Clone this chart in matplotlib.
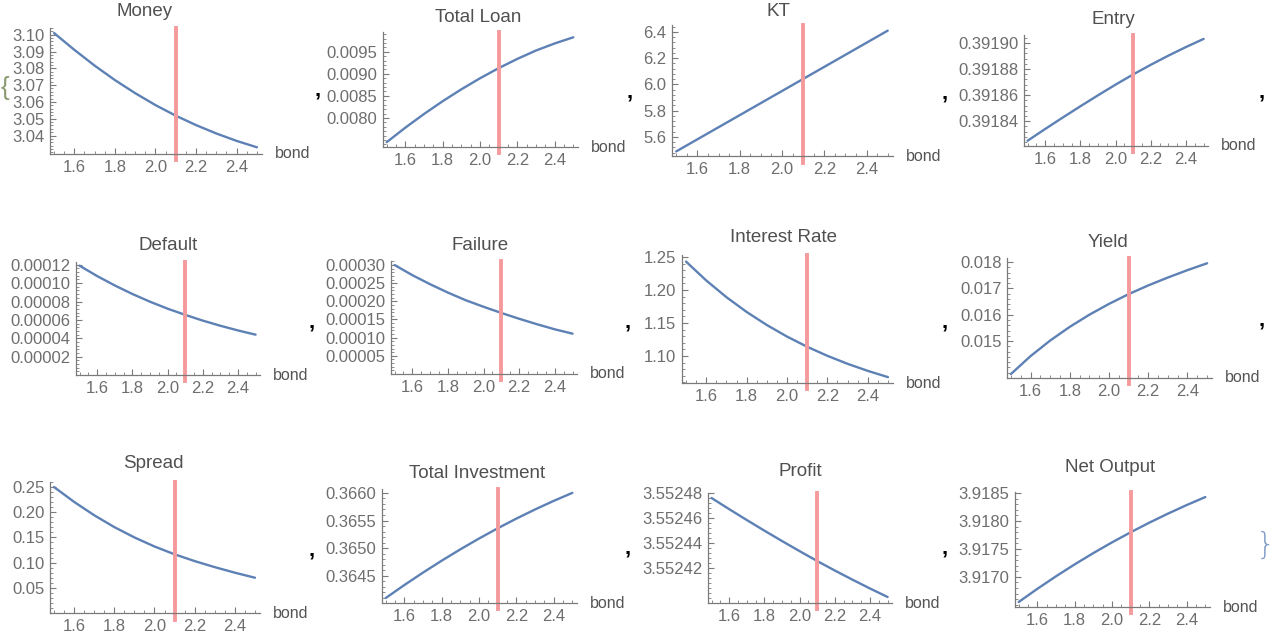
import matplotlib
matplotlib.use("Agg")
import matplotlib.pyplot as plt
from matplotlib.ticker import FixedLocator, FormatStrFormatter, AutoMinorLocator

plt.rcParams['font.family'] = ['Liberation Sans', 'DejaVu Sans']

# ==========================================
# data (bond = 1.5 ... 2.5)
# ==========================================
bond = [1.5, 1.6, 1.7, 1.8, 1.9, 2.0, 2.1, 2.2, 2.3, 2.4, 2.5]
bond_mark = 2.1
x_ticks = [1.6, 1.8, 2.0, 2.2, 2.4]

titles = ["Money", "Total Loan", "KT", "Entry",
          "Default", "Failure", "Interest Rate", "Yield",
          "Spread", "Total Investment", "Profit", "Net Output"]

money = [3.1010, 3.0910, 3.0816, 3.0730, 3.0652, 3.0581, 3.0518, 3.0462, 3.0412, 3.0368, 3.0330]
total_loan = [0.00745, 0.00778, 0.00809, 0.00838, 0.00865, 0.00890, 0.00913, 0.00934, 0.00953, 0.00969, 0.00983]
kt = [5.490, 5.582, 5.674, 5.766, 5.858, 5.950, 6.042, 6.134, 6.226, 6.318, 6.410]
entry = [0.3918250, 0.3918340, 0.3918428, 0.3918514, 0.3918598, 0.3918680,
         0.3918758, 0.3918832, 0.3918902, 0.3918968, 0.3919030]
default = [0.000119, 0.0001077, 0.0000975, 0.0000882, 0.0000798, 0.0000722,
           0.0000655, 0.0000592, 0.0000536, 0.0000485, 0.0000439]
failure = [0.000300, 0.000272, 0.000247, 0.000224, 0.000203, 0.000185,
           0.000168, 0.000152, 0.000137, 0.000123, 0.000111]
interest_rate = [1.243, 1.2144, 1.1891, 1.1667, 1.1469, 1.1294, 1.1139, 1.1002, 1.0881, 1.0774, 1.0679]
yield_ = [0.01375, 0.01443, 0.01502, 0.01554, 0.01600, 0.01641, 0.01678, 0.01711, 0.01741, 0.01769, 0.01795]
spread = [0.250, 0.2205, 0.194, 0.1705, 0.150, 0.132, 0.1165, 0.103, 0.091, 0.080, 0.070]
total_investment = [0.364100, 0.364335, 0.364560, 0.364775, 0.364980, 0.365175,
                    0.365360, 0.365535, 0.365700, 0.365855, 0.366000]
profit = [3.5524760, 3.5524671, 3.5524584, 3.5524499, 3.5524416, 3.5524335,
          3.5524256, 3.5524180, 3.5524107, 3.5524036, 3.5523968]
net_output = [3.916550, 3.916786, 3.917011, 3.917224, 3.917426, 3.917618,
              3.917799, 3.917971, 3.918133, 3.918286, 3.918430]

series = [money, total_loan, kt, entry, default, failure,
          interest_rate, yield_, spread, total_investment, profit, net_output]

# y ticks per panel
y_ticks = [
    [3.04, 3.05, 3.06, 3.07, 3.08, 3.09, 3.10],
    [0.0080, 0.0085, 0.0090, 0.0095],
    [5.6, 5.8, 6.0, 6.2, 6.4],
    [0.39184, 0.39186, 0.39188, 0.39190],
    [0.00002, 0.00004, 0.00006, 0.00008, 0.00010, 0.00012],
    [0.00005, 0.00010, 0.00015, 0.00020, 0.00025, 0.00030],
    [1.10, 1.15, 1.20, 1.25],
    [0.015, 0.016, 0.017, 0.018],
    [0.05, 0.10, 0.15, 0.20, 0.25],
    [0.3645, 0.3650, 0.3655, 0.3660],
    [3.55242, 3.55244, 3.55246, 3.55248],
    [3.9170, 3.9175, 3.9180, 3.9185],
]
y_fmt = ['%.2f', '%.4f', '%.1f', '%.5f', '%.5f', '%.5f', '%.2f', '%.3f', '%.2f', '%.4f', '%.5f', '%.4f']
y_lims = [(3.029, 3.104), (0.00734, 0.00995), (5.455, 6.453), (0.391821, 0.391906),
          (0.0, 0.000123), (0.0, 0.000311), (1.059, 1.253), (0.0136, 0.01815),
          (0.0, 0.26), (0.36401, 0.36607), (3.552392, 3.55248), (3.91646, 3.91852)]

# ==========================================
# layout (pixels: y-axis x, x-axis end, top, x-axis y) + title centres
# ==========================================
W, H = 1277, 637
boxes = [(50, 262, 28, 154), (383, 578, 32, 147), (672, 893, 25, 156), (1024, 1208, 35, 146),
         (76, 260, 262, 375), (391, 577, 261, 374), (682, 893, 255, 383), (1007, 1212, 258, 378),
         (50, 260, 482, 613), (382, 577, 489, 603), (708, 892, 493, 603), (1015, 1210, 492, 607)]
title_pos = [(145, 12), (478, 17), (778, 12), (1113, 20),
             (168, 245), (480, 245), (784, 237), (1108, 243),
             (153, 463), (477, 473), (800, 472), (1110, 468)]
commas = [(318, 90), (630, 92), (945, 93), (1262, 92),
          (312, 322), (628, 322), (945, 322), (1262, 320),
          (312, 550), (628, 548), (945, 548)]

LINE = '#5e81b5'
MARK = '#f59a9c'
AXC = '#7a7a7a'
LBL = '#6e6e6e'

fig = plt.figure(figsize=(W / 100, H / 100), dpi=100)

for i in range(12):
    L, R, T, B = boxes[i]
    ax = fig.add_axes([L / W, 1 - B / H, (R - L) / W, (B - T) / H])
    ax.set_facecolor('none')
    ax.plot(bond, series[i], color=LINE, lw=1.7, solid_capstyle='round', solid_joinstyle='round')
    ax.axvline(bond_mark, ymin=-0.05, ymax=1.0, color=MARK, lw=2.8, clip_on=False)
    ax.set_xlim(1.48, 2.525)
    ax.set_ylim(*y_lims[i])

    ax.xaxis.set_major_locator(FixedLocator(x_ticks))
    ax.xaxis.set_major_formatter(FormatStrFormatter('%.1f'))
    ax.xaxis.set_minor_locator(AutoMinorLocator(4))
    ax.yaxis.set_major_locator(FixedLocator(y_ticks[i]))
    ax.yaxis.set_major_formatter(FormatStrFormatter(y_fmt[i]))
    ax.yaxis.set_minor_locator(AutoMinorLocator(5))

    for s in ['top', 'right']:
        ax.spines[s].set_visible(False)
    for s in ['left', 'bottom']:
        ax.spines[s].set_color(AXC)
        ax.spines[s].set_linewidth(0.9)
    ax.tick_params(which='major', direction='in', length=4, width=0.8, color=AXC,
                   labelcolor=LBL, labelsize=12, pad=4)
    ax.tick_params(which='minor', direction='in', length=2.2, width=0.6, color=AXC)

    ax.annotate('bond', xy=(1, 0), xycoords='axes fraction', xytext=(9, 0),
                textcoords='offset points', ha='left', va='center',
                fontsize=11.5, color='#555555')

    tx, ty = title_pos[i]
    fig.text(tx / W, 1 - ty / H, titles[i], ha='center', va='center',
             fontsize=13.5, color='#505050')

for cx, cy in commas:
    fig.text(cx / W, 1 - cy / H, ',', ha='center', va='center',
             fontsize=16, fontweight='bold', color='black')

# list braces left over from the notebook output
fig.text(1 / W, 1 - 88 / H, '{', ha='left', va='center', fontsize=19,
         color='#8c9a70')
fig.text(1266 / W, 1 - 545 / H, '}', ha='center', va='center', fontsize=22,
         color='#7f9cc4', family='DejaVu Sans', fontweight='light')

plt.savefig('out.png', dpi=100)
